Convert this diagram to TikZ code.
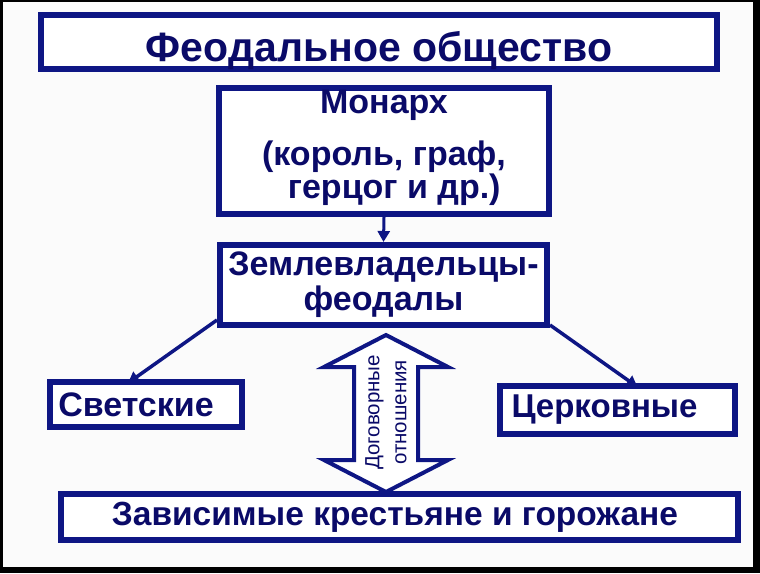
\documentclass[tikz,border=0pt]{standalone}
\usepackage{fontspec}
\setmainfont{Liberation Sans}
\usetikzlibrary{arrows.meta}
\definecolor{navy}{RGB}{14,22,132}
\definecolor{navytext}{RGB}{10,10,104}

\tikzset{
  framebox/.style={draw=navy, line width=6pt, fill=white, inner sep=0pt,
    text=navytext, font=\bfseries, align=center},
  link/.style={draw=navy, line width=3.5pt, -{Triangle[length=11pt,width=12pt]}}
}

\begin{document}
\begin{tikzpicture}[x=1pt,y=-1pt]
\useasboundingbox (0,0) rectangle (760,573);
\fill[black] (0,0) rectangle (760,573);
\fill[white!97!gray] (3,2) rectangle (753,567);

\node[framebox, minimum width=676pt, minimum height=54pt, text height=46pt, text depth=8pt,
  font=\fontsize{41}{44}\selectfont\bfseries] (society) at (379,42) {Феодальное общество};
\node[framebox, minimum width=330pt, minimum height=126pt, text height=110pt, text depth=16pt,
  font=\fontsize{34}{31}\selectfont\bfseries] (monarch) at (384,151)
  {Монарх\\[19pt](король, граф,\\\hspace*{0.6em}герцог и др.)};
\node[framebox, minimum width=327pt, minimum height=80pt,
  font=\fontsize{34}{35}\selectfont\bfseries] (lords) at (383.5,285) {Землевладельцы-\\феодалы};
\node[framebox, minimum width=192pt, minimum height=45pt,
  font=\fontsize{34}{36}\selectfont\bfseries] (secular) at (146,404.5) {\hspace*{-20pt}Светские};
\node[framebox, minimum width=235pt, minimum height=48pt,
  font=\fontsize{33}{36}\selectfont\bfseries] (church) at (617.5,410) {\hspace*{-26pt}Церковные};
\node[framebox, minimum width=677pt, minimum height=46pt,
  font=\fontsize{33.5}{36}\selectfont\bfseries] (peasants) at (399.5,517) {\hspace*{-9pt}Зависимые крестьяне и горожане};

\draw[link, line width=3pt] (monarch.south) -- (lords.north);
\draw[link] ([yshift=8pt]lords.south west) -- ([xshift=-18pt,yshift=-4pt]secular.north);
\draw[link] ([yshift=3pt]lords.south east) -- ([xshift=20pt,yshift=-4pt]church.north);

% double arrow between lords and peasants
\coordinate (pact) at (386,412.5);
\draw[navy, line width=4pt, fill=white, line join=miter]
  (pact) ++(0,-77.5) -- ++(62,32) -- ++(-30,0) -- ++(0,93) -- ++(30,0)
  -- ++(-62,32) -- ++(-62,-32) -- ++(30,0) -- ++(0,-93) -- ++(-30,0) -- cycle;
\node[rotate=90, text=navytext, align=center, font=\fontsize{20.5}{27}\selectfont]
  (pactlabel) at (pact) {Договорные\\отношения};
\end{tikzpicture}
\end{document}
